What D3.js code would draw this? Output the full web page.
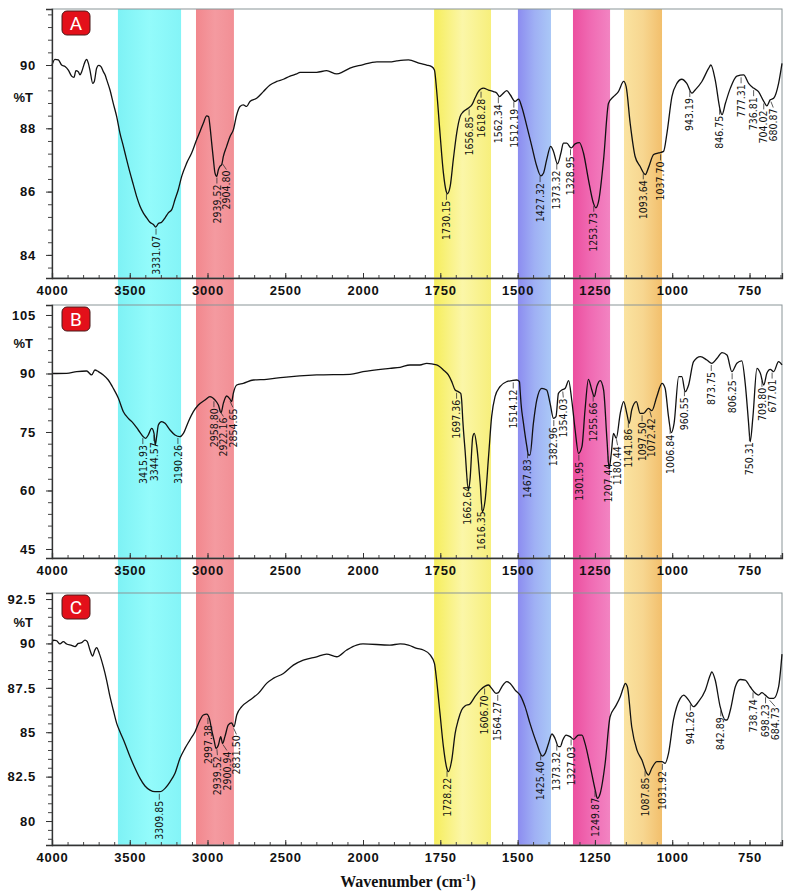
<!DOCTYPE html>
<html>
<head>
<meta charset="utf-8">
<script src="https://cdn.jsdelivr.net/npm/d3@7"></script>
<style>
  body { margin: 0; background: #fff; }
  .tick-label { font-family: "Liberation Sans", Arial, sans-serif; font-weight: bold; font-size: 13px; letter-spacing: 0.8px; fill: #111; }
  .peak-label { font-family: "Liberation Sans Narrow", "DejaVu Sans Condensed", "Arial Narrow", sans-serif; font-stretch: condensed; font-size: 10.5px; fill: #111; }
  .unit-label { font-family: "Liberation Sans", Arial, sans-serif; font-weight: bold; font-size: 13px; fill: #111; }
  .axis-title { font-family: "Liberation Serif", "Times New Roman", serif; font-weight: bold; font-size: 16px; fill: #111; }
</style>
</head>
<body>
<div id="chart"></div>
<script>
// ---- Data: [wavenumber (cm-1), %T] ----
const spectrumA = [
  [4000, 90.00], [3981, 90.18], [3959, 90.16], [3938, 90.00], [3916, 89.95], [3895, 89.84],
  [3874, 89.65], [3859, 89.61], [3846, 89.82], [3831, 89.79], [3820, 89.69], [3809, 89.79],
  [3788, 90.10], [3777, 90.18], [3766, 90.05], [3756, 89.84], [3738, 89.42], [3728, 89.48],
  [3713, 89.90], [3700, 89.99], [3685, 89.95], [3670, 89.79], [3659, 89.69], [3648, 89.53],
  [3627, 89.21], [3606, 88.79], [3584, 88.37], [3563, 87.85], [3541, 87.43], [3520, 87.01],
  [3498, 86.59], [3477, 86.22], [3456, 85.85], [3434, 85.54], [3413, 85.33], [3391, 85.17],
  [3370, 85.03], [3348, 84.96], [3333, 84.88], [3316, 84.99], [3295, 85.03], [3273, 85.17],
  [3252, 85.33], [3230, 85.43], [3209, 85.75], [3188, 86.06], [3166, 86.48], [3134, 86.90],
  [3102, 87.22], [3070, 87.64], [3048, 87.90], [3027, 88.16], [3005, 88.39], [2993, 88.37],
  [2984, 88.06], [2973, 87.53], [2962, 87.01], [2952, 86.59], [2941, 86.48], [2930, 86.69],
  [2920, 86.80], [2909, 86.85], [2898, 87.11], [2877, 87.43], [2855, 87.74], [2834, 87.95],
  [2812, 88.43], [2791, 88.69], [2770, 88.74], [2748, 88.69], [2727, 88.85], [2684, 88.95],
  [2641, 89.16], [2598, 89.37], [2555, 89.48], [2512, 89.55], [2469, 89.65], [2427, 89.72],
  [2405, 89.77], [2298, 89.77], [2234, 89.82], [2169, 89.72], [2127, 89.79], [2084, 89.90],
  [2009, 90.00], [1955, 90.10], [1913, 90.10], [1891, 90.13], [1853, 90.16], [1816, 90.05],
  [1794, 90.00], [1778, 89.95], [1769, 89.84], [1762, 89.21], [1751, 87.85], [1740, 86.59],
  [1731, 86.01], [1727, 85.93], [1718, 86.17], [1708, 87.01], [1697, 87.85], [1686, 88.37],
  [1675, 88.53], [1659, 88.64], [1648, 88.74], [1638, 88.95], [1627, 89.16], [1611, 89.27],
  [1594, 89.21], [1578, 89.16], [1567, 89.11], [1559, 89.00], [1551, 89.06], [1535, 89.19],
  [1524, 89.06], [1508, 88.85], [1497, 88.92], [1487, 88.69], [1470, 88.06], [1454, 87.43],
  [1438, 86.80], [1425, 86.50], [1416, 86.59], [1406, 87.01], [1393, 87.43], [1384, 87.27],
  [1371, 86.88], [1360, 87.22], [1352, 87.53], [1341, 87.53], [1327, 87.38], [1314, 87.51],
  [1300, 87.55], [1287, 87.22], [1271, 86.38], [1255, 85.64], [1247, 85.49], [1238, 85.70],
  [1222, 87.01], [1206, 88.79], [1190, 89.00], [1174, 89.16], [1157, 89.48], [1149, 89.32],
  [1136, 88.16], [1120, 87.11], [1104, 86.80], [1087, 86.54], [1077, 86.75], [1060, 87.17],
  [1044, 87.22], [1028, 87.27], [1017, 87.85], [1001, 89.00], [985, 89.42], [969, 89.55],
  [953, 89.42], [936, 89.11], [926, 89.21], [904, 89.48], [882, 89.90], [875, 90.00],
  [861, 89.53], [845, 88.58], [839, 88.43], [828, 88.79], [812, 89.27], [791, 89.65],
  [769, 89.69], [753, 89.42], [737, 89.27], [721, 89.16], [704, 88.85], [694, 88.71],
  [683, 88.90], [672, 88.95], [656, 89.42], [645, 90.05]
];

const spectrumB = [
  [4000, 90.00], [3906, 90.04], [3841, 90.47], [3777, 90.64], [3745, 89.62], [3724, 90.90],
  [3702, 90.47], [3670, 89.62], [3638, 88.33], [3606, 86.20], [3573, 83.63], [3541, 80.21],
  [3509, 78.50], [3477, 77.22], [3445, 75.51], [3413, 73.80], [3398, 73.38], [3381, 74.23],
  [3359, 75.94], [3344, 74.66], [3336, 71.67], [3327, 73.80], [3316, 76.79], [3295, 77.65],
  [3273, 77.22], [3241, 75.51], [3209, 74.23], [3177, 73.80], [3155, 74.66], [3123, 77.65],
  [3091, 80.21], [3059, 81.92], [3016, 83.21], [2984, 84.06], [2952, 83.21], [2930, 81.92],
  [2913, 79.96], [2898, 82.35], [2877, 84.23], [2855, 83.38], [2845, 82.78], [2834, 84.91],
  [2812, 87.05], [2770, 87.48], [2705, 88.33], [2620, 88.50], [2512, 89.02], [2298, 89.62],
  [2084, 89.79], [2000, 90.47], [1913, 91.32], [1880, 91.58], [1848, 92.18], [1816, 92.18],
  [1794, 92.61], [1762, 92.18], [1740, 90.90], [1724, 89.62], [1713, 87.91], [1702, 85.77],
  [1692, 85.34], [1684, 84.91], [1681, 83.21], [1677, 77.65], [1670, 70.38], [1659, 60.13],
  [1654, 62.69], [1645, 73.80], [1640, 74.66], [1632, 71.24], [1621, 61.84], [1614, 54.57],
  [1605, 57.56], [1594, 68.68], [1584, 78.93], [1573, 84.06], [1557, 86.62], [1535, 87.91],
  [1519, 88.16], [1503, 88.33], [1494, 87.91], [1492, 85.77], [1489, 82.35], [1481, 77.22],
  [1470, 71.24], [1465, 69.10], [1460, 69.10], [1449, 77.22], [1438, 83.21], [1422, 86.20],
  [1406, 85.77], [1395, 82.35], [1384, 78.50], [1376, 78.93], [1368, 84.91], [1357, 85.77],
  [1346, 86.20], [1335, 88.16], [1325, 83.21], [1314, 75.51], [1303, 69.53], [1292, 71.24],
  [1282, 80.64], [1271, 88.50], [1260, 85.77], [1252, 84.06], [1244, 86.62], [1233, 88.16],
  [1222, 85.77], [1211, 72.95], [1204, 65.68], [1197, 69.53], [1190, 74.66], [1181, 73.38],
  [1168, 79.79], [1157, 82.78], [1147, 79.79], [1139, 77.22], [1131, 80.64], [1116, 82.78],
  [1104, 79.79], [1093, 79.79], [1077, 81.07], [1066, 80.47], [1050, 84.06], [1033, 87.48],
  [1023, 86.20], [1012, 78.93], [1003, 74.83], [994, 77.22], [979, 89.19], [969, 89.19],
  [958, 85.34], [947, 87.05], [931, 93.03], [909, 94.32], [888, 93.46], [872, 92.61],
  [855, 93.89], [839, 95.34], [823, 94.74], [807, 90.47], [791, 92.61], [775, 93.21],
  [764, 87.48], [753, 77.22], [748, 72.52], [739, 78.93], [726, 91.32], [715, 90.04],
  [704, 87.05], [694, 90.04], [683, 91.07], [672, 90.47], [656, 93.03], [645, 92.20]
];

const spectrumC = [
  [4000, 90.00], [3991, 90.19], [3970, 90.15], [3949, 89.97], [3927, 90.10], [3906, 89.97],
  [3874, 89.89], [3852, 89.82], [3831, 90.00], [3809, 90.04], [3788, 90.19], [3773, 90.10],
  [3756, 89.63], [3739, 89.29], [3724, 89.63], [3713, 89.76], [3696, 89.44], [3670, 88.69],
  [3649, 87.94], [3627, 87.00], [3606, 86.25], [3584, 85.50], [3563, 85.03], [3531, 84.37],
  [3498, 83.62], [3466, 82.97], [3434, 82.40], [3402, 81.97], [3370, 81.74], [3338, 81.65],
  [3306, 81.65], [3273, 81.84], [3241, 82.21], [3209, 82.69], [3177, 83.53], [3145, 84.09],
  [3113, 84.56], [3080, 85.03], [3048, 85.69], [3027, 85.97], [3005, 86.02], [2988, 85.78],
  [2973, 85.12], [2958, 84.56], [2945, 84.09], [2930, 84.28], [2915, 84.75], [2903, 84.37],
  [2888, 84.75], [2866, 85.41], [2845, 85.53], [2830, 85.31], [2812, 85.97], [2780, 86.44],
  [2727, 86.81], [2673, 87.19], [2620, 87.75], [2577, 88.03], [2512, 88.31], [2448, 88.78],
  [2384, 89.06], [2298, 89.25], [2234, 89.40], [2169, 89.25], [2105, 89.63], [2041, 89.91],
  [2000, 89.97], [1913, 89.91], [1880, 89.97], [1853, 89.91], [1826, 89.72], [1805, 89.63],
  [1783, 89.35], [1769, 88.88], [1762, 87.94], [1751, 86.06], [1740, 84.19], [1729, 82.97],
  [1724, 82.78], [1713, 83.44], [1702, 84.94], [1692, 85.69], [1681, 86.25], [1670, 86.48],
  [1654, 86.59], [1638, 87.00], [1621, 87.37], [1605, 87.60], [1594, 87.66], [1584, 87.47],
  [1570, 87.19], [1562, 87.23], [1551, 87.56], [1535, 87.85], [1524, 87.75], [1508, 87.37],
  [1492, 87.09], [1476, 86.44], [1460, 85.50], [1438, 84.37], [1420, 83.66], [1411, 83.81],
  [1400, 84.37], [1389, 84.90], [1379, 84.65], [1368, 84.19], [1362, 84.19], [1354, 84.56],
  [1343, 84.84], [1330, 84.75], [1319, 84.60], [1303, 84.84], [1292, 84.84], [1282, 84.37],
  [1265, 83.06], [1249, 81.74], [1242, 81.27], [1233, 81.55], [1217, 83.24], [1201, 85.87],
  [1184, 86.44], [1168, 87.00], [1157, 87.56], [1152, 87.75], [1145, 87.56], [1131, 85.31],
  [1114, 83.99], [1098, 83.43], [1082, 82.68], [1077, 82.59], [1066, 82.97], [1050, 83.34],
  [1033, 83.34], [1023, 83.25], [1012, 83.81], [996, 85.69], [974, 86.91], [963, 87.09],
  [947, 86.81], [931, 86.44], [915, 86.72], [893, 87.37], [877, 88.22], [872, 88.40],
  [861, 87.94], [845, 86.44], [828, 85.69], [823, 85.69], [812, 86.25], [796, 87.56],
  [780, 87.97], [764, 87.94], [748, 87.56], [731, 87.19], [721, 87.09], [710, 87.23],
  [699, 87.09], [685, 86.91], [672, 86.91], [656, 87.56], [645, 89.40]
];

// peak annotations (cm-1)
const peaksA = [3331.07, 2939.52, 2904.80, 1730.15, 1656.85, 1618.28, 1562.34, 1512.19, 1427.32,
  1373.32, 1328.95, 1253.73, 1093.64, 1037.70, 943.19, 846.75, 777.31, 736.81, 704.02, 680.87];
const peaksB = [3415.93, 3344.57, 3190.26, 2958.80, 2922.16, 2854.65, 1697.36, 1662.64, 1616.35,
  1514.12, 1467.83, 1382.96, 1354.03, 1301.95, 1255.66, 1207.44, 1180.44, 1141.86, 1097.50,
  1072.42, 1006.84, 960.55, 873.75, 806.25, 750.31, 709.80, 677.01];
const peaksC = [3309.85, 2997.38, 2939.52, 2900.94, 2831.50, 1728.22, 1606.70, 1564.27, 1425.40,
  1373.32, 1327.03, 1249.87, 1087.85, 1031.92, 941.26, 842.89, 738.74, 698.23, 684.73];

// highlighted regions [from, to] in cm-1
const bands = [[3576, 3170], [3074, 2830], [1770, 1586], [1499, 1392], [1321, 1201], [1156, 1033]];
const bandColors = [
  ["#7ef2f5", "#93fbfb", "#84f4f7"],
  ["#f2878d", "#f49aa0", "#f28f95"],
  ["#f6ee5c", "#fbf6a8", "#f7ef7c"],
  ["#8c8cf0", "#9fb0f4", "#aac8f7"],
  ["#ec4f9f", "#f06cb4", "#f284c2"],
  ["#fae3a0", "#f7d690", "#f2bf6c"]
];

const xTicks = [4000, 3500, 3000, 2500, 2000, 1750, 1500, 1250, 1000, 750];
const yTicksA = [84, 86, 88, 90];
const yTicksB = [45, 60, 75, 90, 105];
const yTicksC = [80, 82.5, 85, 87.5, 90, 92.5];

// ---- Layout ----
const W = 794, H = 894;
const left = 52, right = 782;

const svg = d3.select("#chart").append("svg")
    .attr("width", W)
    .attr("height", H);

// FTIR style axis: scale changes at 2000 cm-1
const x = d3.scaleLinear()
    .domain([4000, 2000, 645])
    .range([left, 363, right]);

const panels = [
  { name: "A", data: spectrumA, peaks: peaksA, top: 9, bottom: 278, domain: [83.27, 91.77], ticks: yTicksA, minor: 0.4, unitY: 97 },
  { name: "B", data: spectrumB, peaks: peaksB, top: 305, bottom: 558, domain: [42.69, 107.56], ticks: yTicksB, minor: 3, unitY: 343 },
  { name: "C", data: spectrumC, peaks: peaksC, top: 593, bottom: 845, domain: [78.65, 92.84], ticks: yTicksC, minor: 0.5, unitY: 622 }
];

// --- gradients for the bands ---
const defs = svg.append("defs");
bandColors.forEach((stops, i) => {
  const g = defs.append("linearGradient")
      .attr("id", "band" + i)
      .attr("x1", "0%").attr("x2", "100%")
      .attr("y1", "0%").attr("y2", "0%");
  stops.forEach((c, j) => g.append("stop")
      .attr("offset", (j / (stops.length - 1) * 100) + "%")
      .attr("stop-color", c));
});

// --- bands run through all three panels ---
svg.append("g").selectAll("rect")
    .data(bands)
    .join("rect")
    .attr("x", d => x(d[0]))
    .attr("width", d => x(d[1]) - x(d[0]))
    .attr("y", panels[0].top)
    .attr("height", panels[2].bottom - panels[0].top)
    .attr("fill", (d, i) => `url(#band${i})`);

// linear lookup of %T at a wavenumber (data sorted high -> low)
function valueAt(data, wn) {
  for (let i = 1; i < data.length; i++) {
    const a = data[i - 1], b = data[i];
    if (wn <= a[0] && wn >= b[0]) {
      const t = (a[0] - wn) / (a[0] - b[0]);
      return a[1] + t * (b[1] - a[1]);
    }
  }
  return data[data.length - 1][1];
}

panels.forEach(p => {
  const y = d3.scaleLinear().domain(p.domain).range([p.bottom, p.top]);
  const g = svg.append("g");

  // frame (top / right are thin grey)
  g.append("rect")
      .attr("x", left).attr("y", p.top)
      .attr("width", right - left).attr("height", p.bottom - p.top)
      .attr("fill", "none")
      .attr("stroke", "#8a9598")
      .attr("stroke-width", 1);

  // curve
  const line = d3.line()
      .x(d => x(d[0]))
      .y(d => y(d[1]))
      .curve(d3.curveMonotoneX);

  g.append("path")
      .datum(p.data)
      .attr("fill", "none")
      .attr("stroke", "#111")
      .attr("stroke-width", 1.3)
      .attr("stroke-linejoin", "round")
      .attr("d", line);

  // peak labels, pushed apart when they crowd
  const labels = p.peaks
      .map(wn => ({ wn, px: x(wn), py: y(valueAt(p.data, wn)) }))
      .sort((a, b) => a.px - b.px);
  let prev = -Infinity;
  labels.forEach(l => {
    l.lx = Math.max(l.px, prev + 9.5);
    prev = l.lx;
  });

  const lg = g.append("g");
  lg.selectAll("line")
      .data(labels)
      .join("line")
      .attr("x1", d => d.px).attr("y1", d => d.py + 2)
      .attr("x2", d => d.lx).attr("y2", d => d.py + 8)
      .attr("stroke", "#333")
      .attr("stroke-width", 0.8);

  lg.selectAll("text")
      .data(labels)
      .join("text")
      .attr("class", "peak-label")
      .attr("transform", d => `translate(${d.lx},${d.py + 9}) rotate(-90)`)
      .attr("text-anchor", "end")
      .attr("dy", "0.35em")
      .text(d => d.wn.toFixed(2));

  // y axis
  const yMinor = d3.range(Math.ceil(p.domain[0] / p.minor) * p.minor, p.domain[1], p.minor);
  g.append("g")
      .attr("transform", `translate(${left},0)`)
      .call(d3.axisLeft(y).tickValues(yMinor).tickSize(4).tickFormat(""))
      .call(a => a.select(".domain").remove())
      .call(a => a.selectAll("line").attr("stroke", "#444"));

  g.append("g")
      .attr("transform", `translate(${left},0)`)
      .call(d3.axisLeft(y).tickValues(p.ticks).tickSize(6).tickPadding(10)
          .tickFormat(d => Number.isInteger(d) ? d : d.toFixed(1)))
      .call(a => a.select(".domain").attr("stroke", "#333").attr("stroke-width", 1.3))
      .call(a => a.selectAll("line").attr("stroke", "#333"))
      .call(a => a.selectAll("text").attr("class", "tick-label").attr("font-size", null).attr("font-family", null));

  // x axis: minor every 100 above 2000, every 50 below
  const xMinor = d3.range(4000, 2000, -100).concat(d3.range(2000, 645, -50));
  g.append("g")
      .attr("transform", `translate(0,${p.bottom})`)
      .call(d3.axisBottom(x).tickValues(xMinor).tickSize(-3).tickFormat(""))
      .call(a => a.select(".domain").remove())
      .call(a => a.selectAll("line").attr("stroke", "#444"));

  g.append("g")
      .attr("transform", `translate(0,${p.bottom})`)
      .call(d3.axisBottom(x).tickValues(xTicks).tickSize(-5).tickPadding(8).tickFormat(d3.format("d")))
      .call(a => a.select(".domain").attr("stroke", "#333").attr("stroke-width", 1.3))
      .call(a => a.selectAll("line").attr("stroke", "#333"))
      .call(a => a.selectAll("text").attr("class", "tick-label").attr("font-size", null).attr("font-family", null));

  // %T
  g.append("text")
      .attr("class", "unit-label")
      .attr("x", 33)
      .attr("y", p.unitY)
      .attr("dy", "0.35em")
      .attr("text-anchor", "end")
      .text("%T");

  // panel badge
  const badge = g.append("g").attr("transform", `translate(62,${p.top + 2})`);
  badge.append("rect")
      .attr("width", 28).attr("height", 24)
      .attr("rx", 5)
      .attr("fill", "#e3101a")
      .attr("stroke", "#4a1a1a")
      .attr("stroke-width", 1);
  badge.append("text")
      .attr("x", 14).attr("y", 12)
      .attr("dy", "0.36em")
      .attr("text-anchor", "middle")
      .attr("fill", "#fff")
      .attr("font-family", "Roboto, 'Open Sans', sans-serif")
      .attr("font-size", 19)
      .text(p.name);
});

// x axis title
const title = svg.append("text")
    .attr("class", "axis-title")
    .attr("x", 408)
    .attr("y", 887)
    .attr("text-anchor", "middle");
title.append("tspan").text("Wavenumber (cm");
title.append("tspan").attr("font-size", 10).attr("dy", -6).text("-1");
title.append("tspan").attr("dy", 6).text(")");
</script>
</body>
</html>
